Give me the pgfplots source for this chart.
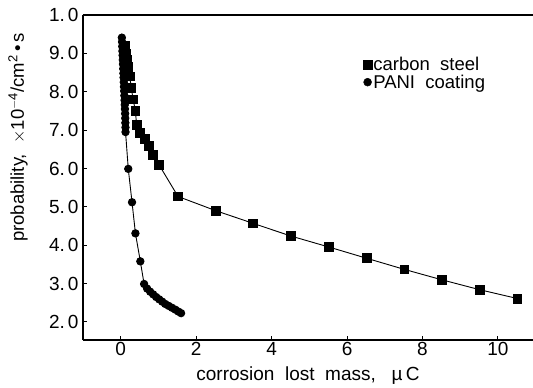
\documentclass[border=0pt]{standalone}
\usepackage{fontspec}
\setmainfont{Liberation Sans}
\usepackage{pgfplots}
\pgfplotsset{compat=1.18}
\begin{document}
\begin{tikzpicture}
\begin{axis}[
  name=ax,
  scale only axis, width=450pt, height=325pt,
  xmin=-1, xmax=10.93, ymin=1.53, ymax=10,
  axis x line*=box, axis y line*=left,
  xtick={0,2,4,6,8,10}, xtick pos=left,
  ytick={2,3,4,5,6,7,8,9,10},
  yticklabels={2.\hspace{3pt}0,3.\hspace{3pt}0,4.\hspace{3pt}0,5.\hspace{3pt}0,6.\hspace{3pt}0,7.\hspace{3pt}0,8.\hspace{3pt}0,9.\hspace{3pt}0,1.\hspace{3pt}0},
  tick align=inside, major tick length=4pt,
  /pgf/number format/assume math mode=true,
  tick label style={font=\fontsize{19}{22}\selectfont, black},
  yticklabel style={xshift=-1pt},
  xticklabel style={yshift=1pt},
  axis line style={line width=1.3pt},
  every tick/.style={black, line width=1pt},
  xlabel={corrosion\ \ lost\ \ mass,\ \ \ \textmu\,C},
  ylabel={probability,\ \ $\times$10\textsuperscript{$-$4}/cm\textsuperscript{2}\,\textbullet\,s},
  every axis x label/.style={at={(axis description cs:0.5,0)}, anchor=north, yshift=-23pt, font=\fontsize{19}{22}\selectfont},
  every axis y label/.style={at={(axis description cs:-0.1444,0.623)}, rotate=90, anchor=center, font=\fontsize{18.5}{21}\selectfont},
  legend style={draw=none, fill=none, at={(0.6216,0.875)}, anchor=north west,
    font=\fontsize{18.5}{21}\selectfont, row sep=1pt, inner sep=0pt,
    nodes={inner sep=1pt}},
  legend cell align=left,
  clip=false,
]
\addplot[black, line width=0.9pt, mark=square*, mark size=4.4pt, forget plot] coordinates {
(0.12,9.20)(0.15,9.00)(0.17,8.82)(0.19,8.64)(0.24,8.40)(0.28,8.09)(0.33,7.80)(0.39,7.49)(0.42,7.14)(0.50,6.93)(0.64,6.77)(0.75,6.58)(0.86,6.36)(1.02,6.09)
(1.52,5.27)(2.52,4.90)(3.51,4.57)(4.51,4.24)(5.53,3.95)(6.52,3.66)(7.52,3.37)(8.51,3.10)(9.52,2.84)(10.52,2.61)
};
\addplot[black, line width=0.9pt, mark=*, mark size=3.7pt, forget plot] coordinates {
(0.030,9.41)(0.035,9.30)(0.040,9.18)(0.045,9.06)(0.050,8.95)(0.055,8.83)(0.060,8.72)(0.066,8.60)(0.071,8.48)(0.076,8.37)(0.081,8.25)(0.086,8.13)(0.092,8.02)(0.097,7.90)(0.102,7.78)(0.107,7.66)(0.112,7.55)(0.117,7.43)(0.120,7.31)(0.123,7.19)(0.126,7.07)(0.128,6.95)
(0.20,5.99)(0.30,5.12)(0.39,4.31)(0.52,3.58)(0.62,2.99)
(0.70,2.87)(0.78,2.79)(0.86,2.72)(0.94,2.65)(1.02,2.59)(1.10,2.53)(1.18,2.47)(1.27,2.42)(1.36,2.37)(1.45,2.32)(1.53,2.27)(1.60,2.23)
};
\addlegendimage{legend image code/.code={\fill[black] (0pt,-4.5pt) rectangle (9pt,4.5pt);}}
\addlegendentry{carbon\ \ steel}
\addlegendimage{legend image code/.code={\fill[black] (4.5pt,0pt) circle (4pt);}}
\addlegendentry{PANI\ \ coating}
\end{axis}
\pgfresetboundingbox
\path ([xshift=-83pt,yshift=-47pt]ax.south west) rectangle ([yshift=15pt]ax.north east);
\end{tikzpicture}
\end{document}
